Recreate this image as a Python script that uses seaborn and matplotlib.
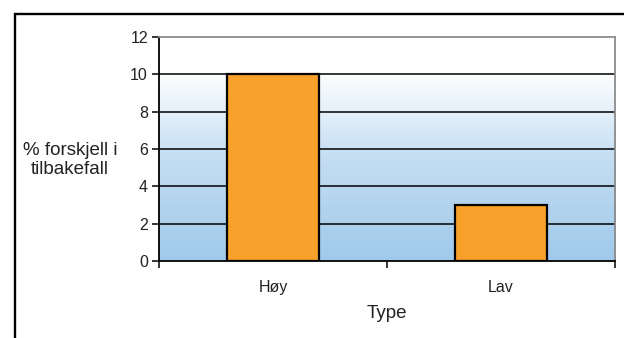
import numpy as np
import matplotlib
matplotlib.use("Agg")
import matplotlib.pyplot as plt
import seaborn as sns
import pandas as pd
from matplotlib.colors import LinearSegmentedColormap
from matplotlib.patches import Rectangle

categories = ["Høy", "Lav"]
values = [10, 3]
y_ticks = [0, 2, 4, 6, 8, 10, 12]
y_label = "% forskjell i\ntilbakefall"
x_label = "Type"

sns.set_theme(style="white")
plt.rcParams["font.family"] = ["Liberation Sans", "DejaVu Sans"]

df = pd.DataFrame({"Type": categories, "value": values})

fig = plt.figure(figsize=(6.24, 3.38), dpi=100)
ax = fig.add_axes([0.2548, 0.2278, 0.7308, 0.6627])

# outer frame
fig.patches.append(Rectangle((15 / 624, -0.1), 1.2, 1 - 13.5 / 338 + 0.1,
                             transform=fig.transFigure, fill=False,
                             edgecolor="black", linewidth=1.7, zorder=0))

# gradient plot background
cmap = LinearSegmentedColormap.from_list(
    "bg", [(0.0, "#9fc9eb"), (0.45, "#c3ddf2"), (0.85, "#ffffff"), (1.0, "#ffffff")])
grad = np.linspace(0, 1, 256).reshape(-1, 1)
ax.imshow(grad, aspect="auto", cmap=cmap, origin="lower",
          extent=[-0.5, 1.5, 0, 12], zorder=0)

sns.barplot(data=df, x="Type", y="value", color="#f7a12b", width=0.4,
            edgecolor="black", linewidth=1.6, saturation=1, ax=ax, zorder=3)

ax.set_xlim(-0.5, 1.5)
ax.set_ylim(0, 12)
ax.set_yticks(y_ticks)
ax.set_yticklabels([str(t) for t in y_ticks], fontsize=11.5, color="#222222")
for t in y_ticks[1:-1]:
    ax.axhline(t, color="black", linewidth=1.1, zorder=2)

ax.set_xticks([0, 1])
ax.set_xticklabels(categories, fontsize=11.5, color="#222222")
ax.tick_params(axis="x", length=0, pad=14)
ax.set_xticks([-0.5, 0.5, 1.5], minor=True)
ax.tick_params(axis="x", which="minor", direction="out", length=5, width=1.1,
               color="black", bottom=True)
ax.tick_params(axis="y", direction="out", length=5, width=1.1, color="black",
               left=True, pad=3)

for side in ["left", "bottom"]:
    ax.spines[side].set_color("black")
    ax.spines[side].set_linewidth(1.3)
for side in ["top", "right"]:
    ax.spines[side].set_color("#8c8c8c")
    ax.spines[side].set_linewidth(1.3)
    ax.spines[side].set_visible(True)

ax.set_ylabel("")
ax.set_xlabel(x_label, fontsize=13.5, labelpad=7, color="#222222")

fig.text(70 / 624, 1 - 160 / 338, y_label, ha="center", va="center",
         multialignment="center", fontsize=13.5, color="#222222", linespacing=1.1)

fig.savefig("out.png", dpi=100)
